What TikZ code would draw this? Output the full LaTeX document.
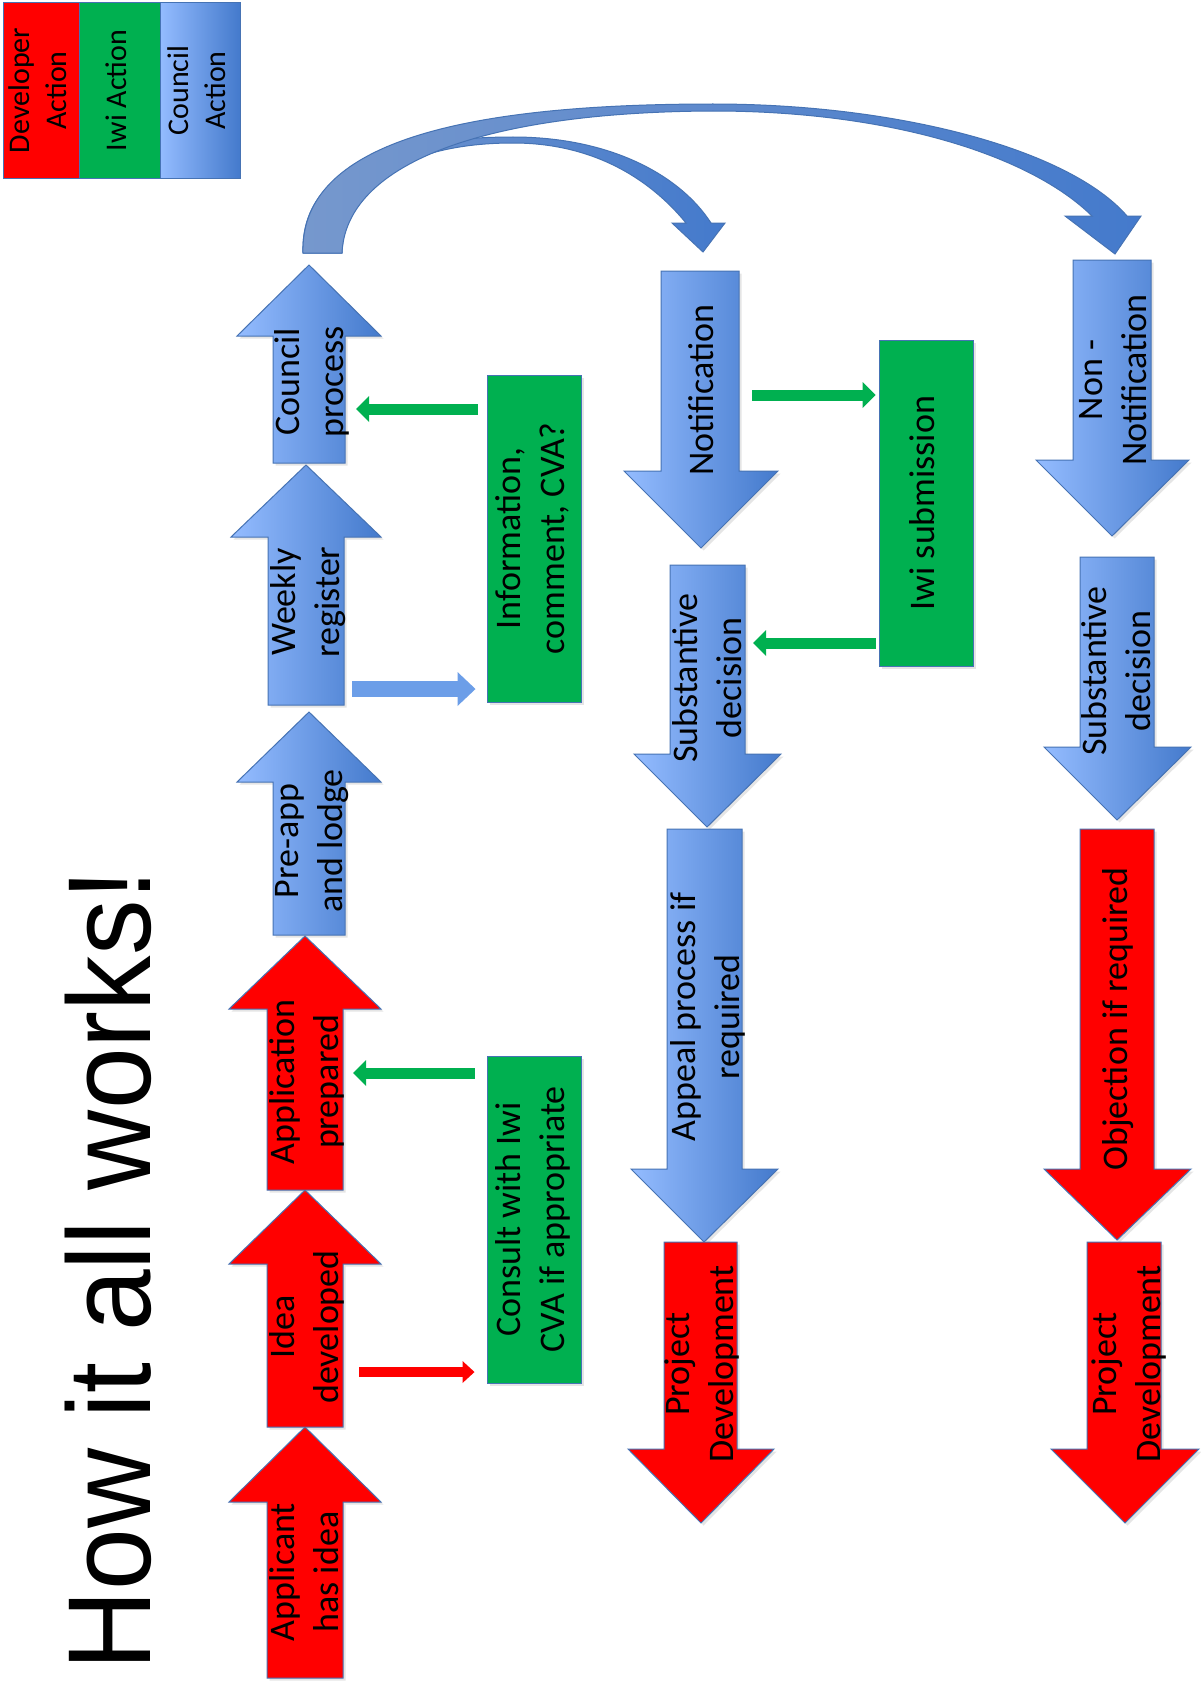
\documentclass[tikz,border=0pt]{standalone}
\usepackage{fontspec}
\setmainfont{Carlito}
\newfontfamily\titlefont{Liberation Sans}
\usepackage{graphicx}
\usetikzlibrary{arrows.meta,shadows}

\definecolor{devred}{RGB}{255,0,0}
\definecolor{iwigreen}{RGB}{0,176,80}
\definecolor{cclight}{RGB}{148,188,255}
\definecolor{ccdark}{RGB}{68,122,204}
\definecolor{ccmid}{RGB}{108,158,232}
\definecolor{arcpale}{RGB}{118,152,205}
\definecolor{edgeblue}{RGB}{70,115,180}

\newcommand\vtext[1]{\rotatebox{90}{\begin{tabular}{@{}c@{}}#1\end{tabular}}}

\begin{document}
\begin{tikzpicture}[x=1pt, y=-1pt,
  redblk/.style={fill=devred, draw=edgeblue, line width=1pt, drop shadow={opacity=.2, shadow xshift=2.5pt, shadow yshift=-2.5pt}},
  blueblk/.style={left color=cclight, right color=ccdark, draw=edgeblue, line width=1pt, drop shadow={opacity=.2, shadow xshift=2.5pt, shadow yshift=-2.5pt}},
  curl/.style={left color=arcpale, right color=ccdark, draw=edgeblue, line width=1pt},
  stage/.style={inner xsep=-6pt, inner ysep=0pt, minimum width=76pt, font=\fontsize{36}{44}\selectfont},
  iwibox/.style={fill=iwigreen, draw=edgeblue, line width=1pt, inner sep=0pt, minimum width=94pt, minimum height=327pt, font=\fontsize{36}{44}\selectfont, drop shadow={opacity=.2, shadow xshift=2.5pt, shadow yshift=-2.5pt}},
  key/.style={draw=edgeblue, line width=1pt, inner sep=0pt, minimum height=175pt, font=\fontsize{30}{37}\selectfont},
  grnarr/.style={draw=iwigreen, line width=11pt, -{Triangle[length=13pt, width=26pt, line width=0pt]}},
  redarr/.style={draw=devred, line width=10pt, -{Triangle[length=12pt, width=22pt, line width=0pt]}},
  bluarr/.style={draw=ccmid, line width=16pt, -{Triangle[length=18pt, width=34pt, line width=0pt]}}]

\fill[white] (0,0) rectangle (1200,1683);

% legend
\node[key, fill=devred, minimum width=76pt] (devkey) at (41,90.5) {\vtext{Developer\\Action}};
\node[key, fill=iwigreen, minimum width=81pt] (iwikey) at (119.5,90.5) {\vtext{Iwi Action}};
\node[key, left color=cclight, right color=ccdark, minimum width=80pt] (cckey) at (200,90.5) {\vtext{Council\\Action}};

% title
\node[inner sep=0pt, font=\titlefont\fontsize{118}{118}\selectfont] (title) at (108,1270) {\rotatebox{90}{\scalebox{0.94}[1]{How it all works!}}};

% curved arrows
\draw[curl] (303,253) .. controls (300,165) and (400,137) .. (513,137) .. controls (610,137) and (680,175) .. (711,223) -- (725,223) -- (703,252) -- (672,223) -- (686,223) .. controls (655,185) and (600,143) .. (513,143) .. controls (420,143) and (345,175) .. (342,253) -- cycle;
\draw[curl] (303,253) .. controls (300,150) and (440,104) .. (713,104) .. controls (900,104) and (1070,150) .. (1127,216) -- (1141,216) -- (1115,254) -- (1065,216) -- (1092,216) .. controls (1030,155) and (890,111) .. (713,111) .. controls (480,112) and (346,165) .. (342,253) -- cycle;

% block arrows
\draw[redblk] (267,1678) -- (267,1502) -- (229,1502) -- (305,1427) -- (381,1502) -- (343,1502) -- (343,1678) -- cycle;
\draw[redblk] (267,1427) -- (267,1264) -- (229,1264) -- (305,1190) -- (381,1264) -- (343,1264) -- (343,1427) -- cycle;
\draw[redblk] (267,1190) -- (267,1009) -- (229,1009) -- (305,936) -- (381,1009) -- (343,1009) -- (343,1190) -- cycle;
\draw[blueblk] (273,935) -- (273,782) -- (237,782) -- (309,712) -- (381,782) -- (345,782) -- (345,935) -- cycle;
\draw[blueblk] (268,705) -- (268,537) -- (231,537) -- (306,465) -- (381,537) -- (344,537) -- (344,705) -- cycle;
\draw[blueblk] (273,463) -- (273,336) -- (237,336) -- (309,265) -- (381,336) -- (345,336) -- (345,463) -- cycle;

\draw[blueblk] (661,271) -- (661,471) -- (624,471) -- (701,548) -- (778,471) -- (739,471) -- (739,271) -- cycle;
\draw[blueblk] (670,565) -- (670,754) -- (634,754) -- (707,827) -- (781,754) -- (745,754) -- (745,565) -- cycle;
\draw[blueblk] (667,829) -- (667,1169) -- (631,1169) -- (704,1242) -- (778,1169) -- (742,1169) -- (742,829) -- cycle;
\draw[redblk] (664,1242) -- (664,1449) -- (628,1449) -- (701,1523) -- (774,1449) -- (737,1449) -- (737,1242) -- cycle;

\draw[blueblk] (1073,260) -- (1073,460) -- (1036,460) -- (1112,536) -- (1189,460) -- (1151,460) -- (1151,260) -- cycle;
\draw[blueblk] (1080,557) -- (1080,747) -- (1044,747) -- (1117,820) -- (1191,747) -- (1154,747) -- (1154,557) -- cycle;
\draw[redblk] (1080,829) -- (1080,1169) -- (1044,1169) -- (1117,1240) -- (1191,1169) -- (1154,1169) -- (1154,829) -- cycle;
\draw[redblk] (1087,1242) -- (1087,1449) -- (1051,1449) -- (1125,1523) -- (1199,1449) -- (1161,1449) -- (1161,1242) -- cycle;

% stages
\node[stage] (applicant) at (308,1572) {\vtext{Applicant\\has idea}};
\node[stage] (idea) at (308,1327) {\vtext{Idea\\developed}};
\node[stage] (app) at (308,1082) {\vtext{Application\\prepared}};
\node[stage] (preapp) at (312,841) {\vtext{Pre-app\\and lodge}};
\node[stage] (weekly) at (309,602) {\vtext{Weekly\\register}};
\node[stage] (council) at (313,382) {\vtext{Council\\process}};

\node[stage] (notif) at (705,390) {\vtext{Notification}};
\node[stage] (subdec) at (711,678) {\vtext{Substantive\\decision}};
\node[stage] (appeal) at (709,1017) {\vtext{Appeal process if\\required}};
\node[stage] (projdev) at (703,1364) {\vtext{Project\\Development}};

\node[stage] (nonnotif) at (1116,380) {\vtext{Non -\\Notification}};
\node[stage] (subdecb) at (1120,671) {\vtext{Substantive\\decision}};
\node[stage] (objection) at (1119,1019) {\vtext{Objection if required}};
\node[stage] (projdevb) at (1130,1364) {\vtext{Project\\Development}};

% iwi boxes
\node[iwibox] (consult) at (534,1219.5) {\vtext{Consult with Iwi\\CVA if appropriate}};
\node[iwibox] (info) at (534,538.5) {\vtext{Information,\\comment, CVA?}};
\node[iwibox, minimum height=326pt] (iwisub) at (926,503) {\vtext{Iwi submission}};

% links
\draw[redarr, shorten <=13pt, shorten >=12pt] ([yshift=-45pt]idea.east) -- ([yshift=-152.5pt]consult.west);
\draw[grnarr, shorten <=12pt, shorten >=7pt] ([yshift=146.5pt]consult.west) -- ([yshift=9pt]app.east);
\draw[bluarr, shorten <=5pt, shorten >=11pt] ([yshift=-87pt]weekly.east) -- ([yshift=-150.5pt]info.west);
\draw[grnarr, shorten <=9pt, shorten >=5pt] ([yshift=129.5pt]info.west) -- ([yshift=-27pt]council.east);
\draw[grnarr, shorten <=9pt, shorten >=3pt] ([yshift=-5pt]notif.east) -- ([yshift=108pt]iwisub.west);
\draw[grnarr, shorten <=3pt, shorten >=4pt] ([yshift=-140pt]iwisub.west) -- ([yshift=35pt]subdec.east);
\end{tikzpicture}
\end{document}
